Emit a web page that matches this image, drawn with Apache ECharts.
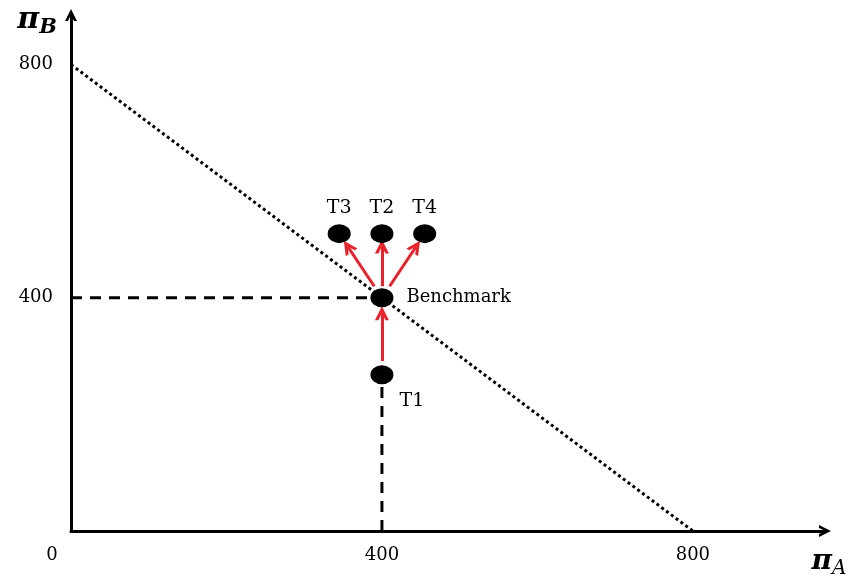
<!DOCTYPE html>
<html>
<head>
<meta charset="utf-8">
<script src="https://cdn.jsdelivr.net/npm/echarts@6/dist/echarts.min.js"></script>
<style>
  html, body { margin: 0; padding: 0; background: #fff; }
  #chart { width: 854px; height: 576px; }
</style>
</head>
<body>
<div id="chart"></div>
<script>
// tick labels shown on each axis
var xTicks = [0, 400, 800];
var yTicks = [400, 800];

// budget line pi_A + pi_B = 800
var budgetLine = [[0, 800], [800, 0]];
// dashed guides to the benchmark
var guideH = [[0, 400], [400, 400]];
var guideV = [[400, 0], [400, 268]];

// treatments
var pointNames = ['Benchmark', 'T1', 'T2', 'T3', 'T4'];
var pointX = [400, 400, 400, 345, 455];
var pointY = [400, 268, 510, 510, 510];

// red arrows: from -> to (by point name)
var arrowFrom = ['T1', 'Benchmark', 'Benchmark', 'Benchmark'];
var arrowTo = ['Benchmark', 'T2', 'T3', 'T4'];

var serif = '"DejaVu Serif", "Liberation Serif", serif';

function pt(name) {
    var i = pointNames.indexOf(name);
    return [pointX[i], pointY[i]];
}

// shorten arrows so they sit between the dots
var arrowData = [];
for (var i = 0; i < arrowFrom.length; i++) {
    var a = pt(arrowFrom[i]), b = pt(arrowTo[i]);
    var t0 = 0.18, t1 = 0.8;
    arrowData.push({
        coords: [
            [a[0] + (b[0] - a[0]) * t0, a[1] + (b[1] - a[1]) * t0],
            [a[0] + (b[0] - a[0]) * t1, a[1] + (b[1] - a[1]) * t1]
        ]
    });
}

var labelPos = { 'Benchmark': 'right', 'T1': 'bottom', 'T2': 'top', 'T3': 'top', 'T4': 'top' };
var scatterData = [];
for (var i = 0; i < pointNames.length; i++) {
    var n = pointNames[i];
    var p = labelPos[n];
    scatterData.push({
        name: n,
        value: [pointX[i], pointY[i]],
        label: {
            position: p,
            distance: p == 'right' ? 13 : 7,
            offset: n == 'T1' ? [30, 0] : [0, 0],
            fontSize: n == 'Benchmark' ? 18 : 19
        }
    });
}

// open arrow head
var chevron = 'path://M0,14 L7,0 L14,14 L10.5,14 L7,6.5 L3.5,14 Z';

var myChart = echarts.init(document.getElementById('chart'));
var option = {
    backgroundColor: '#fff',
    animation: false,
    grid: { left: 71, right: 29, top: 15, bottom: 45, outerBoundsMode: 'none' },
    xAxis: {
        type: 'value',
        min: 0,
        max: 970,
        interval: 400,
        splitLine: { show: false },
        axisTick: { show: false },
        axisLine: {
            lineStyle: { color: '#000', width: 3 },
            symbol: ['none', chevron],
            symbolSize: [16, 12]
        },
        axisLabel: {
            margin: 15,
            color: '#000',
            fontFamily: serif,
            fontSize: 18,
            showMaxLabel: false,
            formatter: function (v) {
                if (xTicks.indexOf(v) < 0) return '';
                if (v == 0) return '{z|0}';
                return String(v);
            },
            rich: { z: { fontFamily: serif, fontSize: 18, color: '#000', padding: [0, 38, 0, 0] } }
        },
        name: '{p|π}{s|A}',
        nameLocation: 'end',
        nameGap: 0,
        nameTextStyle: {
            align: 'center',
            verticalAlign: 'top',
            padding: [14, 0, 0, 8],
            rich: {
                p: { fontFamily: serif, fontStyle: 'italic', fontWeight: 'bold', fontSize: 28, color: '#000' },
                s: { fontFamily: serif, fontStyle: 'italic', fontSize: 20, color: '#000', padding: [14, 0, 0, 0] }
            }
        }
    },
    yAxis: {
        type: 'value',
        min: 0,
        max: 885,
        interval: 400,
        splitLine: { show: false },
        axisTick: { show: false },
        axisLine: {
            lineStyle: { color: '#000', width: 3 },
            symbol: ['none', chevron],
            symbolSize: [16, 12]
        },
        axisLabel: {
            margin: 18,
            color: '#000',
            fontFamily: serif,
            fontSize: 18,
            showMaxLabel: false,
            formatter: function (v) {
                return yTicks.indexOf(v) < 0 ? '' : String(v);
            }
        },
        name: '{p|π}{s|B}',
        nameLocation: 'end',
        nameGap: 12,
        nameTextStyle: {
            align: 'right',
            verticalAlign: 'top',
            padding: [0, 14, 0, 0],
            rich: {
                p: { fontFamily: serif, fontStyle: 'italic', fontWeight: 'bold', fontSize: 30, color: '#000' },
                s: { fontFamily: serif, fontStyle: 'italic', fontWeight: 'bold', fontSize: 21, color: '#000', padding: [14, 0, 0, 0] }
            }
        }
    },
    series: [
        {
            type: 'line',
            data: budgetLine,
            symbol: 'none',
            lineStyle: { color: '#000', width: 3, type: [3, 3] },
            z: 1
        },
        {
            type: 'line',
            data: guideH,
            symbol: 'none',
            lineStyle: { color: '#000', width: 3, type: [11, 8] },
            z: 1
        },
        {
            type: 'line',
            data: guideV,
            symbol: 'none',
            lineStyle: { color: '#000', width: 3, type: [11, 8] },
            z: 1
        },
        {
            type: 'lines',
            coordinateSystem: 'cartesian2d',
            data: arrowData,
            symbol: ['none', chevron],
            symbolSize: 14,
            lineStyle: { color: '#e8212a', width: 3, opacity: 1 },
            z: 2
        },
        {
            type: 'scatter',
            data: scatterData,
            symbol: 'circle',
            symbolSize: [23, 19],
            itemStyle: { color: '#000', opacity: 1 },
            label: {
                show: true,
                formatter: '{b}',
                color: '#000',
                fontFamily: serif
            },
            z: 3
        }
    ]
};
myChart.setOption(option);
</script>
</body>
</html>
